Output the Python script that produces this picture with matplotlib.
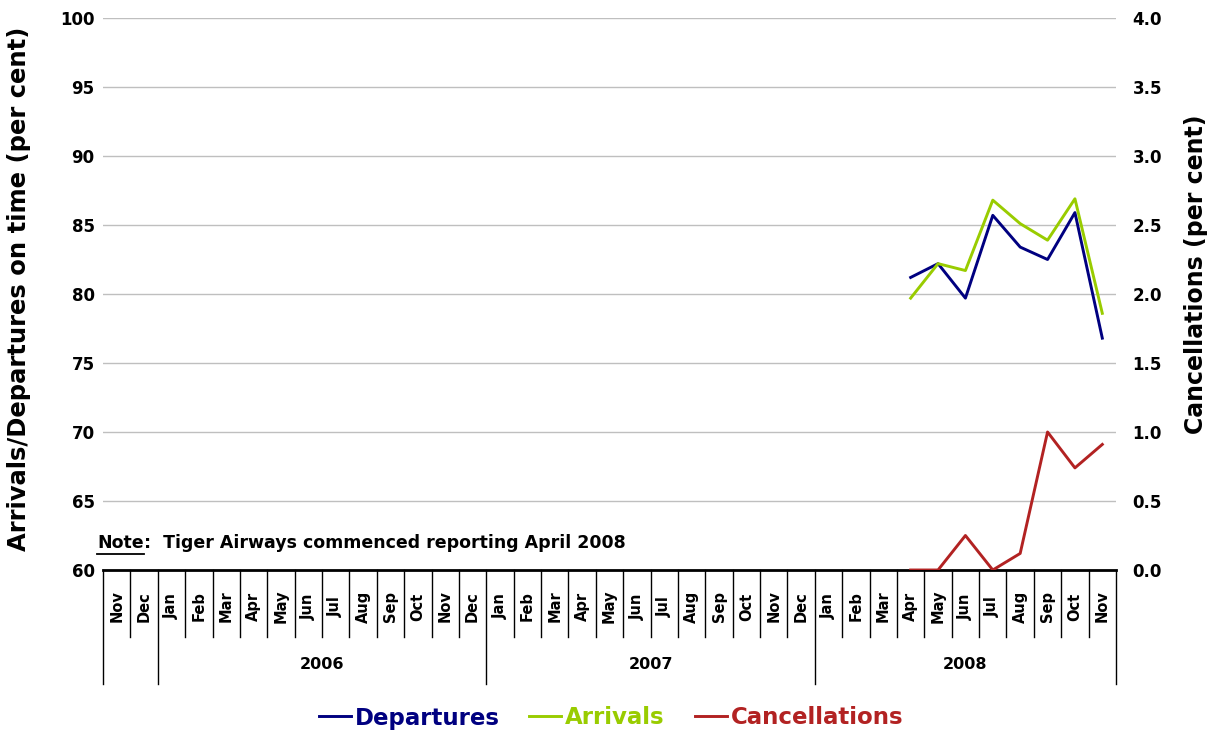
"""Tiger Airways on time performance chart"""
import numpy as np
import matplotlib
matplotlib.use("Agg")
import matplotlib.pyplot as plt
from matplotlib.lines import Line2D

# categories: Nov 2005 .. Nov 2008
years = ["", "2006", "2007", "2008"]
year_months = [
    ["Nov", "Dec"],
    ["Jan", "Feb", "Mar", "Apr", "May", "Jun", "Jul", "Aug", "Sep", "Oct", "Nov", "Dec"],
    ["Jan", "Feb", "Mar", "Apr", "May", "Jun", "Jul", "Aug", "Sep", "Oct", "Nov", "Dec"],
    ["Jan", "Feb", "Mar", "Apr", "May", "Jun", "Jul", "Aug", "Sep", "Oct", "Nov"],
]
# reporting starts April 2008
first_reported = 29
departures = [81.2, 82.2, 79.7, 85.7, 83.4, 82.5, 85.9, 76.8]
arrivals = [79.7, 82.2, 81.7, 86.8, 85.1, 83.9, 86.9, 78.6]
cancellations = [0.0, 0.0, 0.25, 0.0, 0.12, 1.0, 0.74, 0.91]

c_dep = "#000080"
c_arr = "#99CC00"
c_can = "#B22222"

months = [m for grp in year_months for m in grp]
n = len(months)
xs = np.arange(first_reported, first_reported + len(departures))

fig = plt.figure(figsize=(12.14, 7.37), dpi=100)
ax = fig.add_axes([103 / 1214, 167 / 737, (1116 - 103) / 1214, 552 / 737])
ax2 = ax.twinx()

ax.plot(xs, departures, color=c_dep, lw=2.1, label="Departures", zorder=3)
ax.plot(xs, arrivals, color=c_arr, lw=2.1, label="Arrivals", zorder=3)
ax2.plot(xs, cancellations, color=c_can, lw=2.1, label="Cancellations", zorder=3)

ax.set_xlim(-0.5, n - 0.5)
ax.set_ylim(60, 100)
ax.set_yticks(np.arange(60, 101, 5))
ax2.set_ylim(0, 4)
ax2.set_yticks(np.arange(0, 4.01, 0.5))
ax2.set_yticklabels(["%.1f" % v for v in np.arange(0, 4.01, 0.5)])
ax.yaxis.grid(True, color="#BFBFBF", lw=1)
ax.set_axisbelow(True)
ax.set_xticks([])

for a in (ax, ax2):
    for s in ("top", "left", "right", "bottom"):
        a.spines[s].set_visible(False)
    a.tick_params(axis="y", length=0, labelsize=12)
    for lbl in a.get_yticklabels():
        lbl.set_fontweight("bold")
ax.tick_params(axis="y", pad=6)
ax2.tick_params(axis="y", pad=12)
ax.axhline(60, color="black", lw=2, zorder=4, clip_on=False)

ax.set_ylabel("Arrivals/Departures on time (per cent)", fontsize=17.5,
              fontweight="bold")
ax.yaxis.set_label_coords(-0.071, 0.51)
ax2.set_ylabel("Cancellations (per cent)", fontsize=17, fontweight="bold")
ax2.yaxis.set_label_coords(1.067, 0.535)

# multi-level category axis
tr = ax.get_xaxis_transform()
month_bottom = -0.122
year_bottom = -0.207
for i, m in enumerate(months):
    ax.text(i, -0.066, m, transform=tr, rotation=90, ha="center", va="center",
            fontsize=10.5, fontweight="bold")
start = 0
group_edges = [-0.5]
for y, grp in zip(years, year_months):
    end = start + len(grp)
    for k in range(start + 1, end):
        ax.plot([k - 0.5, k - 0.5], [0, month_bottom], transform=tr,
                color="black", lw=1, clip_on=False)
    group_edges.append(end - 0.5)
    ax.text((start + end - 1) / 2, -0.172, y, transform=tr, ha="center",
            va="center", fontsize=11.5, fontweight="bold")
    start = end
for e in group_edges:
    ax.plot([e, e], [0, year_bottom], transform=tr, color="black", lw=1,
            clip_on=False)

# note
note = fig.text(97 / 1214, 1 - 543 / 737, "Note", fontsize=12.5,
                fontweight="bold", va="center", ha="left")
fig.canvas.draw()
bb = note.get_window_extent()
fig.text(bb.x1 / 1214, 1 - 543 / 737,
         ":  Tiger Airways commenced reporting April 2008", fontsize=12.5,
         fontweight="bold", va="center", ha="left")
fig.add_artist(Line2D([bb.x0 / 1214, bb.x1 / 1214],
                      [(bb.y0 - 2) / 737, (bb.y0 - 2) / 737],
                      color="black", lw=1.3))

handles = [Line2D([], [], color=c_dep, lw=2.1),
           Line2D([], [], color=c_arr, lw=2.1),
           Line2D([], [], color=c_can, lw=2.1)]
fig.legend(handles, ["Departures", "Arrivals", "Cancellations"],
           loc="center", bbox_to_anchor=(611 / 1214, 1 - 718 / 737), ncol=3,
           frameon=False, labelcolor="linecolor", handlelength=1.4,
           handletextpad=0.17, columnspacing=1.3,
           prop={"size": 16.5, "weight": "bold"})

fig.savefig("out.png", dpi=100)
